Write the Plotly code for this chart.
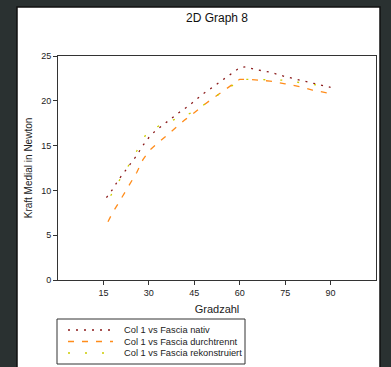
import plotly.graph_objects as go

# Series data (Gradzahl vs Kraft Medial in Newton)
nativ_x = [16, 18, 20, 22, 24, 26, 28, 30, 32, 35, 38, 40, 43, 45, 48, 51, 54, 57, 60, 62, 65, 70, 75, 80, 85, 90]
nativ_y = [9.2, 10.1, 11.2, 12.1, 13.0, 13.9, 15.0, 15.9, 16.6, 17.4, 18.1, 18.7, 19.4, 20.0, 20.8, 21.5, 22.2, 22.9, 23.7, 23.8, 23.5, 23.2, 22.7, 22.3, 21.9, 21.5]

durch_x = [16.5, 18, 20, 22, 24, 26, 28, 30, 32, 34, 36, 38, 40, 42, 44, 46, 48, 50, 52, 54, 56, 58, 60, 63, 66, 70, 75, 78, 81, 84, 87, 90]
durch_y = [6.5, 7.5, 8.6, 9.7, 10.8, 12.0, 13.4, 14.4, 15.0, 15.6, 16.2, 16.8, 17.3, 17.9, 18.4, 19.0, 19.5, 20.0, 20.5, 21.0, 21.4, 21.9, 22.4, 22.4, 22.3, 22.2, 21.9, 21.7, 21.5, 21.2, 21.0, 20.8]

rek_x = [17.4, 20.4, 23.7, 26.7, 29.6, 34.6, 39.9, 45.2, 50.3, 55.5, 58, 60.8, 66, 71, 74, 77, 82, 87, 90]
rek_y = [9.4, 11.2, 13.0, 14.8, 16.6, 17.4, 18.1, 18.8, 20.1, 21.3, 21.8, 22.4, 22.4, 22.3, 22.3, 22.2, 21.9, 21.7, 21.5]

x_ticks = [15, 30, 45, 60, 75, 90]
y_ticks = [0, 5, 10, 15, 20, 25]

series_names = ["Col 1 vs Fascia nativ", "Col 1 vs Fascia durchtrennt", "Col 1 vs Fascia rekonstruiert"]
series_colors = ["#8b1a1a", "#ff8c1a", "#cccc00"]
series_dash = ["2px,6px", "6px,8px", "2px,15px"]
series_x = [nativ_x, durch_x, rek_x]
series_y = [nativ_y, durch_y, rek_y]

W, H = 391, 367
L, R, T, B = 58, 15, 56, 87
PW, PH = W - L - R, H - T - B


def px_x(p):
    return (p - L) / PW


def px_y(p):
    return (H - B - p) / PH


fig = go.Figure()
for xs, ys, nm, col, dsh in zip(series_x, series_y, series_names, series_colors, series_dash):
    fig.add_trace(go.Scatter(x=xs, y=ys, mode="lines", name=nm, showlegend=False,
                             line=dict(color=col, width=1.3, dash=dsh)))

font_family = "Liberation Sans, Arial, sans-serif"

shapes = [dict(type="rect", xref="paper", yref="paper",
               x0=px_x(17), x1=px_x(380), y0=px_y(372), y1=px_y(7),
               fillcolor="white", line=dict(color="#111", width=1.5), layer="below"),
          dict(type="rect", xref="paper", yref="paper",
               x0=px_x(57), x1=px_x(245), y0=px_y(364), y1=px_y(319),
               fillcolor="white", line=dict(color="#333", width=1))]
annotations = []
row_y = [330, 341.5, 353]
for i, (nm, col, dsh) in enumerate(zip(series_names, series_colors, series_dash)):
    shapes.append(dict(type="line", xref="paper", yref="paper",
                       x0=px_x(68), x1=px_x(113), y0=px_y(row_y[i]), y1=px_y(row_y[i]),
                       line=dict(color=col, width=1.3, dash=dsh)))
    annotations.append(dict(text=nm, xref="paper", yref="paper", x=px_x(122), y=px_y(row_y[i]),
                            xanchor="left", yanchor="middle", showarrow=False,
                            font=dict(size=9.3, color="#222")))

fig.update_layout(
    width=W, height=H,
    margin=dict(l=L, r=R, t=T, b=B, autoexpand=False),
    paper_bgcolor="#2a3131",
    plot_bgcolor="white",
    font=dict(family=font_family, size=9, color="#222"),
    title=dict(text="2D Graph 8", x=0.5, xref="paper", xanchor="center",
               y=1 - 18 / H, yanchor="middle", font=dict(size=12, color="#111")),
    showlegend=False,
    shapes=shapes,
    annotations=annotations,
)

fig.update_xaxes(range=[0, 105], tickvals=x_ticks, ticks="outside", ticklen=4,
                 tickcolor="#333", showline=True, linecolor="#333", linewidth=1,
                 mirror=True, showgrid=False, zeroline=False,
                 title=dict(text="Gradzahl", font=dict(size=11, color="#222"), standoff=8),
                 tickfont=dict(size=9))
fig.update_yaxes(range=[0, 25], tickvals=y_ticks, ticks="outside", ticklen=4,
                 tickcolor="#333", showline=True, linecolor="#333", linewidth=1,
                 mirror=True, showgrid=False, zeroline=False,
                 title=dict(text="Kraft Medial in Newton", font=dict(size=10, color="#222"), standoff=6),
                 tickfont=dict(size=9))

fig.write_html("out.html",
               config={"displayModeBar": False},
               post_script="document.body.style.margin='0';document.body.style.overflow='hidden';"
                           "document.body.style.background='#2a3131';")
